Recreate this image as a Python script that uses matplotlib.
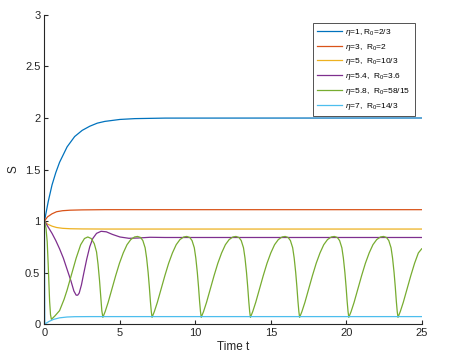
import matplotlib
matplotlib.use("Agg")
import matplotlib.pyplot as plt

# values
BLUE_T = [0, 0.25, 0.5, 0.75, 1, 1.5, 2, 2.5, 3, 3.5, 4, 5, 6, 8, 25]
BLUE_S = [1.0, 1.19, 1.35, 1.47, 1.57, 1.72, 1.82, 1.88, 1.92, 1.95, 1.967, 1.986, 1.994, 1.999, 2.0]

RED_T = [0, 0.2, 0.5, 0.8, 1.2, 1.7, 2.5, 4, 25]
RED_S = [1.0, 1.04, 1.07, 1.09, 1.10, 1.105, 1.108, 1.11, 1.11]

YELLOW_T = [0, 0.2, 0.5, 0.8, 1.2, 1.7, 2.5, 4, 25]
YELLOW_S = [1.0, 0.97, 0.95, 0.937, 0.929, 0.925, 0.923, 0.922, 0.922]

PURPLE_T = [0, 0.25, 0.5, 0.75, 1.0, 1.25, 1.5, 1.75, 1.95, 2.1, 2.2, 2.3, 2.45, 2.6,
            2.8, 3.0, 3.2, 3.45, 3.75, 4.1, 4.5, 5.0, 5.6, 6.2, 7, 8, 10, 15, 25]
PURPLE_S = [1.0, 0.94, 0.88, 0.81, 0.73, 0.64, 0.53, 0.42, 0.32, 0.28, 0.28, 0.30, 0.38, 0.49,
            0.63, 0.75, 0.83, 0.88, 0.90, 0.895, 0.87, 0.845, 0.832, 0.835, 0.842, 0.84, 0.84, 0.84, 0.84]

GREEN_T = [
    0, 0.1, 0.18, 0.24, 0.29, 0.34, 0.4, 0.46,
    0.7, 1.0, 1.3, 1.5, 1.75, 2.1, 2.4, 2.65, 2.87, 3.1, 3.3, 3.45, 3.55, 3.65, 3.73, 3.8,
    3.87, 4.02, 4.22, 4.47, 4.72, 4.97, 5.22, 5.47, 5.72, 5.97, 6.17, 6.37, 6.52, 6.67, 6.77, 6.87, 6.95, 7.02, 7.08,
    7.13, 7.28, 7.48, 7.73, 7.98, 8.23, 8.48, 8.73, 8.98, 9.23, 9.43, 9.63, 9.78, 9.93, 10.03, 10.13, 10.21, 10.28, 10.34,
    10.39, 10.54, 10.74, 10.99, 11.24, 11.49, 11.74, 11.99, 12.24, 12.49, 12.69, 12.89, 13.04, 13.19, 13.29, 13.39, 13.47, 13.54, 13.60,
    13.65, 13.80, 14.00, 14.25, 14.50, 14.75, 15.00, 15.25, 15.50, 15.75, 15.95, 16.15, 16.30, 16.45, 16.55, 16.65, 16.73, 16.80, 16.86,
    16.91, 17.06, 17.26, 17.51, 17.76, 18.01, 18.26, 18.51, 18.76, 19.01, 19.21, 19.41, 19.56, 19.71, 19.81, 19.91, 19.99, 20.06, 20.12,
    20.17, 20.32, 20.52, 20.77, 21.02, 21.27, 21.52, 21.77, 22.02, 22.27, 22.47, 22.67, 22.82, 22.97, 23.07, 23.17, 23.25, 23.32, 23.38,
    23.43, 23.58, 23.78, 24.03, 24.28, 24.53, 24.78, 25.0,
]
GREEN_S = [
    1.0, 0.93, 0.80, 0.60, 0.40, 0.22, 0.09, 0.045,
    0.08, 0.13, 0.24, 0.33, 0.46, 0.64, 0.77, 0.83, 0.845, 0.83, 0.78, 0.70, 0.58, 0.42, 0.26, 0.13,
    0.065, 0.12, 0.21, 0.34, 0.47, 0.59, 0.69, 0.77, 0.82, 0.845, 0.85, 0.84, 0.81, 0.74, 0.64, 0.50, 0.36, 0.22, 0.12,
    0.065, 0.12, 0.21, 0.34, 0.47, 0.59, 0.69, 0.77, 0.82, 0.845, 0.85, 0.84, 0.81, 0.74, 0.64, 0.50, 0.36, 0.22, 0.12,
    0.065, 0.12, 0.21, 0.34, 0.47, 0.59, 0.69, 0.77, 0.82, 0.845, 0.85, 0.84, 0.81, 0.74, 0.64, 0.50, 0.36, 0.22, 0.12,
    0.065, 0.12, 0.21, 0.34, 0.47, 0.59, 0.69, 0.77, 0.82, 0.845, 0.85, 0.84, 0.81, 0.74, 0.64, 0.50, 0.36, 0.22, 0.12,
    0.065, 0.12, 0.21, 0.34, 0.47, 0.59, 0.69, 0.77, 0.82, 0.845, 0.85, 0.84, 0.81, 0.74, 0.64, 0.50, 0.36, 0.22, 0.12,
    0.065, 0.12, 0.21, 0.34, 0.47, 0.59, 0.69, 0.77, 0.82, 0.845, 0.85, 0.84, 0.81, 0.74, 0.64, 0.50, 0.36, 0.22, 0.12,
    0.065, 0.12, 0.21, 0.34, 0.47, 0.59, 0.69, 0.73,
]

CYAN_T = [0, 0.02, 0.3, 0.6, 1.0, 1.5, 2.0, 3, 25]
CYAN_S = [1.0, 0.0, 0.025, 0.045, 0.06, 0.068, 0.071, 0.072, 0.072]

LABELS = [
    r"$\eta$=1, R$_0$=2/3",
    r"$\eta$=3,  R$_0$=2",
    r"$\eta$=5,  R$_0$=10/3",
    r"$\eta$=5.4,  R$_0$=3.6",
    r"$\eta$=5.8,  R$_0$=58/15",
    r"$\eta$=7,  R$_0$=14/3",
]
COLORS = ["#0072BD", "#D95319", "#EDB120", "#7E2F8E", "#77AC30", "#4DBEEE"]
X_TICKS = [0, 5, 10, 15, 20, 25]
Y_TICKS = [0, 0.5, 1, 1.5, 2, 2.5, 3]
Y_TICK_LABELS = ["0", "0.5", "1", "1.5", "2", "2.5", "3"]


def main():
    plt.rcParams["font.family"] = ["Liberation Sans", "DejaVu Sans"]
    plt.rcParams["mathtext.fontset"] = "custom"
    plt.rcParams["mathtext.rm"] = "Liberation Sans"
    plt.rcParams["mathtext.it"] = "Liberation Sans:italic"

    fig = plt.figure(figsize=(4.6, 3.63), dpi=100, facecolor="white")
    ax = fig.add_axes([0.0967, 0.1074, 0.82, 0.8513])

    series = [
        (BLUE_T, BLUE_S), (RED_T, RED_S), (YELLOW_T, YELLOW_S),
        (PURPLE_T, PURPLE_S), (GREEN_T, GREEN_S), (CYAN_T, CYAN_S),
    ]
    for (t, s), c, lab in zip(series, COLORS, LABELS):
        ax.plot(t, s, color=c, lw=0.9, label=lab)

    ax.set_xlim(0, 25)
    ax.set_ylim(0, 3)
    ax.set_xticks(X_TICKS)
    ax.set_yticks(Y_TICKS)
    ax.set_yticklabels(Y_TICK_LABELS)
    ax.tick_params(direction="in", length=3, width=0.8, colors="#262626",
                   labelsize=8, pad=3)
    for side in ["top", "right"]:
        ax.spines[side].set_visible(False)
    for side in ["left", "bottom"]:
        ax.spines[side].set_color("#262626")
        ax.spines[side].set_linewidth(0.8)

    ax.set_xlabel("Time t", fontsize=8.5, color="#262626", labelpad=2)
    ax.set_ylabel("S", fontsize=8.5, color="#262626", labelpad=4)

    leg = ax.legend(
        loc="upper right", bbox_to_anchor=(0.902, 0.9375),
        bbox_transform=fig.transFigure, fontsize=6.0, frameon=True,
        fancybox=False, edgecolor="#262626", handlelength=3.0,
        handletextpad=0.4, labelspacing=0.45, borderpad=0.5, borderaxespad=0,
    )
    leg.get_frame().set_linewidth(0.7)

    fig.savefig("out.png", dpi=100, facecolor="white")


if __name__ == "__main__":
    main()
